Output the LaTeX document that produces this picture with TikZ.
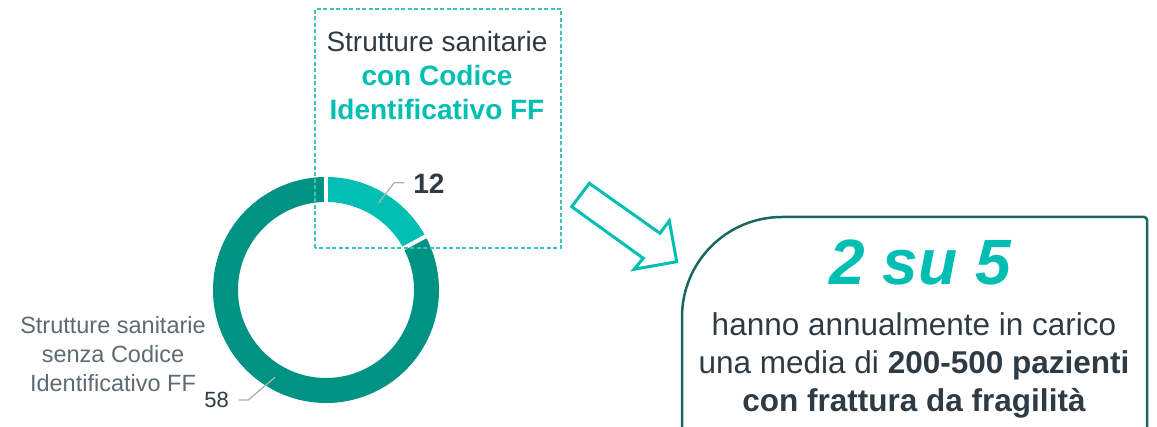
\documentclass[tikz,border=0pt]{standalone}
\usepackage{fontspec}
\setmainfont{Liberation Sans}
\usetikzlibrary{calc}
\definecolor{tealL}{HTML}{00BFB2}
\definecolor{tealD}{HTML}{009283}
\definecolor{dashteal}{HTML}{3CC4B9}
\definecolor{boxline}{HTML}{17695F}
\definecolor{txtdark}{HTML}{2F3B44}
\definecolor{txtgray}{HTML}{5E6A72}
\definecolor{leadergray}{HTML}{A8B3BB}
\tikzset{
  x=1pt, y=1pt,
  txt/.style={inner sep=0pt, anchor=base, text=txtdark},
  boxtxt/.style={txt, font=\fontsize{28}{34}\selectfont},
  sidetxt/.style={txt, text=txtgray, font=\fontsize{23.5}{29}\selectfont},
  noteline/.style={txt, font=\fontsize{31.5}{38}\selectfont},
  leader/.style={draw=leadergray, line width=1.3pt},
  gapline/.style={draw=white, line width=4pt},
}
\begin{document}
\begin{tikzpicture}
\useasboundingbox (0,0) rectangle (1157,427);
\clip (0,0) rectangle (1157,427);

% donut: 12 of 70
\coordinate (c) at (326,137);
\def\Ro{113}\def\Ri{88}\def\cut{28.29}
\fill[tealD] ($(c)+(\cut:\Ro)$) arc[start angle=\cut, end angle=-270, radius=\Ro]
  -- ($(c)+(90:\Ri)$) arc[start angle=-270, end angle=\cut, radius=\Ri] -- cycle;
\fill[tealL] ($(c)+(90:\Ro)$) arc[start angle=90, end angle=\cut, radius=\Ro]
  -- ($(c)+(\cut:\Ri)$) arc[start angle=\cut, end angle=90, radius=\Ri] -- cycle;
\draw[gapline] ($(c)+(90:\Ri-2)$) -- ($(c)+(90:\Ro+2)$);
\draw[gapline] ($(c)+(\cut:\Ri-2)$) -- ($(c)+(\cut:\Ro+2)$);

% dashed frame round the highlighted segment
\draw[dashteal, line width=1.2pt, dash pattern=on 4pt off 2.5pt]
  (315,179) rectangle (561,418);
\node[boxtxt] (h1) at (437,375) {Strutture sanitarie};
\node[boxtxt, text=tealL, font=\fontsize{28}{34}\bfseries] (h2) at (437,341) {con Codice};
\node[boxtxt, text=tealL, font=\fontsize{28}{34}\bfseries] (h3) at (437,307) {Identificativo FF};

% values with leaders
\node[txt, font=\fontsize{28}{34}\bfseries] (v12) at (429,233) {12};
\coordinate (l12a) at (378.3,223.7);
\coordinate (l12b) at (394.3,244.3);
\coordinate (l12c) at (404.3,244.3);
\draw[leader] (l12a) -- (l12b) -- (l12c);

\node[txt, font=\fontsize{22}{26}\selectfont] (v58) at (216.7,19) {58};
\coordinate (l58a) at (275,49.7);
\coordinate (l58b) at (248.3,27);
\coordinate (l58c) at (238.3,27);
\draw[leader] (l58a) -- (l58b) -- (l58c);

% label of the larger segment
\node[sidetxt] (s1) at (113,93) {Strutture sanitarie};
\node[sidetxt] (s2) at (113,64) {senza Codice};
\node[sidetxt] (s3) at (113,35) {Identificativo FF};

% outlined block arrow
\coordinate (a1) at (589.3,243.7);
\coordinate (a2) at (571.7,220.3);
\coordinate (a3) at (643.3,168.7);
\coordinate (a4) at (634,157.7);
\coordinate (a5) at (676.7,165.3);
\coordinate (a6) at (669.3,206.3);
\coordinate (a7) at (660,193.7);
\draw[tealL, line width=3pt, line join=miter]
  (a1) -- (a2) -- (a3) -- (a4) -- (a5) -- (a6) -- (a7) -- cycle;

% note box with a wide rounded top-left corner
\draw[boxline, line width=2.5pt]
  (682,-10) -- (682,110) arc[start angle=180, end angle=90, radius=100]
  -- (1144,210) arc[start angle=90, end angle=0, radius=3] -- (1147,-10);
\node[txt, text=tealL, font=\fontsize{64}{70}\bfseries\itshape] (big) at (920,142) {2 su 5};
\node[noteline] (n1) at (914,91) {hanno annualmente in carico};
\node[noteline] (n2) at (914,53) {una media di \textbf{200-500 pazienti}};
\node[noteline, font=\fontsize{31.5}{38}\bfseries] (n3) at (914,15) {con frattura da fragilità};
\end{tikzpicture}
\end{document}
